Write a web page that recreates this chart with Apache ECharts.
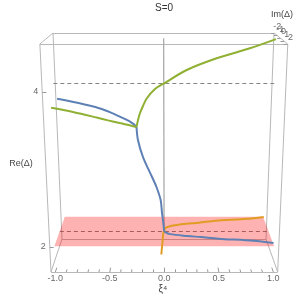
<!DOCTYPE html>
<html><head><meta charset="utf-8">
<script src="https://cdn.jsdelivr.net/npm/echarts@6/dist/echarts.min.js"></script>
<style>html,body{margin:0;padding:0;background:#fff}#c{width:302px;height:298px}</style>
</head><body><div id="c"></div>
<script>
// ---------- data ----------
// complex pair for xi < -0.252 (green: +Im, blue: -Im)
const leftPairXi = [-1, -0.8, -0.6, -0.5, -0.4, -0.33, -0.29, -0.27, -0.252];
const leftPairRe = [3.746, 3.69, 3.62, 3.575, 3.525, 3.49, 3.465, 3.45, 3.434];
const leftPairIm = [1.04, 1.03, 0.99, 0.85, 0.62, 0.42, 0.26, 0.16, 0];
// real middle root (blue) between cusp and 0
const midXi = [-0.252, -0.24, -0.195, -0.112, -0.071, -0.032, -0.0196, -0.0085, 0];
const midRe = [3.434, 3.26, 3.031, 2.758, 2.619, 2.438, 2.254, 2.126, 2];
// real upper root (green)
const upXi = [-0.252, -0.237, -0.218, -0.19, -0.156, -0.08, 0, 0.207, 0.475, 0.771, 1.0];
const upRe = [3.434, 3.526, 3.618, 3.71, 3.807, 3.93, 4.0, 4.173, 4.321, 4.446, 4.56];
// real lower root (orange), xi < 0
const lowXi = [-0.027, -0.0237, -0.0137, -0.0077, 0];
const lowRe = [1.655, 1.721, 1.867, 1.964, 2];
// complex pair for xi > 0 (blue: +Im, orange: -Im)
const rightPairXi = [0, 0.01, 0.057, 0.217, 0.344, 0.505, 0.824, 1.0];
const rightPairRe = [2, 2.01, 2.01, 2.015, 2.015, 2.02, 2.02, 2.02];
const rightPairIm = [0, 0.27, 0.54, 0.83, 0.97, 1.22, 1.49, 1.78];
// axes
const xiTicks = [-1, -0.5, 0, 0.5, 1];
const xiMinorTicks = [-0.9,-0.8,-0.7,-0.6,-0.4,-0.3,-0.2,-0.1,0.1,0.2,0.3,0.4,0.6,0.7,0.8,0.9];
const reTicks = [2, 4];
const imTicks = [-2, -1, 0, 1, 2];
const refLinesRe = [2, 4];
const planeRe = 2;
const planeXi = [-1, 1];
const planeIm = [-2, 2];

// ---------- view (box + camera) ----------
const XI = [-1.04, 1.04], IM = [-2.08, 2.08], RE = [1.6536, 4.5716];
function P(xi, im, re) {
  const u = (xi - XI[0]) / (XI[1] - XI[0]);
  const d = (im - IM[0]) / (IM[1] - IM[0]);
  const t = (re - RE[0]) / (RE[1] - RE[0]);
  const w = 1 - 0.1 * d - 0.077 * t;
  return [(62 + 204 * u - 16.1 * d - 13.08 * t) / w, (239 + 5.8 * d - 208.54 * t) / w];
}
const FONT = 'Liberation Sans, Arial, sans-serif';
const BLUE = '#5E81B5', ORANGE = '#E19C24', GREEN = '#8FB032';

function curve(xs, res, ims, sign, color) {
  return {
    type: 'line', smooth: 0.3, showSymbol: false, symbol: 'none', silent: true,
    lineStyle: { color, width: 2 }, animation: false,
    data: xs.map((x, i) => P(x, ims ? sign * ims[i] : 0, res[i]))
  };
}
function segs(list, color, width, type) {
  return {
    type: 'lines', coordinateSystem: 'cartesian2d', silent: true, animation: false,
    lineStyle: { color, width, type: type || 'solid', opacity: 1 },
    data: list.map(s => ({ coords: s }))
  };
}
function texts(items, label) {
  return {
    type: 'scatter', symbolSize: 0, silent: true, animation: false,
    data: items.map(it => ({ name: it.text, value: it.pos })),
    label: Object.assign({ show: true, formatter: '{b}', fontFamily: FONT, color: '#444', fontSize: 9 }, label)
  };
}

// box edges
const C = (a, b, c) => P(XI[a], IM[b], RE[c]);
const boxEdges = [
  [C(0,0,0), C(1,0,0)], [C(0,0,1), C(1,0,1)], [C(0,1,0), C(1,1,0)], [C(0,1,1), C(1,1,1)],
  [C(0,0,0), C(0,1,0)], [C(1,0,0), C(1,1,0)], [C(0,0,1), C(0,1,1)], [C(1,0,1), C(1,1,1)],
  [C(0,0,0), C(0,0,1)], [C(1,0,0), C(1,0,1)], [C(0,1,0), C(0,1,1)], [C(1,1,0), C(1,1,1)]
];
// ticks
const xiTickSegs = xiTicks.map(x => [P(x, IM[1], RE[0]), P(x, IM[1] - 0.5, RE[0])])
  .concat(xiMinorTicks.map(x => [P(x, IM[1], RE[0]), P(x, IM[1] - 0.3, RE[0])]));
const reTickSegs = reTicks.map(r => [P(XI[0], IM[1], r), P(XI[0] + 0.035, IM[1], r)]);
const imTickSegs = imTicks.map(m => [P(XI[1], m, RE[1]), P(XI[1] - 0.03, m, RE[1])]);
const refSegs = refLinesRe.map(r => [P(-1, 0, r), P(1, 0, r)]);
const vertSeg = [[P(0, 0, planeRe), P(0, 0, RE[1])]];
const planePts = [P(planeXi[0], planeIm[0], planeRe), P(planeXi[1], planeIm[0], planeRe),
                  P(planeXi[1], planeIm[1], planeRe), P(planeXi[0], planeIm[1], planeRe)];

const series = [
  segs(boxEdges, '#b8b8b8', 1),
  segs(refSegs, '#858585', 1, [4, 3]),
  segs(vertSeg, '#ababab', 1.3),
  {
    type: 'custom', silent: true, animation: false, data: [[0, 0]],
    renderItem: (p, api) => ({
      type: 'polygon',
      shape: { points: planePts.map(q => api.coord(q)) },
      style: { fill: 'rgba(255,0,0,0.3)' }
    })
  },
  segs(xiTickSegs, '#9a9a9a', 1),
  segs(reTickSegs, '#9a9a9a', 1),
  segs(imTickSegs, '#9a9a9a', 1),
  // orange
  curve(lowXi, lowRe, null, 1, ORANGE),
  curve(rightPairXi, rightPairRe, rightPairIm, -1, ORANGE),
  // blue
  curve(leftPairXi, leftPairRe, leftPairIm, -1, BLUE),
  curve(midXi, midRe, null, 1, BLUE),
  curve(rightPairXi, rightPairRe, rightPairIm, 1, BLUE),
  // green
  curve(leftPairXi, leftPairRe, leftPairIm, 1, GREEN),
  curve(upXi, upRe, null, 1, GREEN),
  // tick labels
  texts(xiTicks.map(x => ({ text: x.toFixed(1), pos: P(x, IM[1], RE[0]) })), { position: 'bottom', distance: 2 }),
  texts(reTicks.map(r => ({ text: String(r), pos: P(XI[0], IM[1], r) })), { position: 'left', distance: 4 }),
  texts(imTicks.map(m => ({ text: String(m), pos: P(XI[1], m, RE[1]) })), { position: 'top', distance: 2, offset: [3, 0], fontSize: 9 })
];

const chart = echarts.init(document.getElementById('c'), null, { renderer: 'canvas' });
chart.setOption({
  animation: false,
  backgroundColor: '#fff',
  grid: { left: 0, right: 0, top: 0, bottom: 0 },
  xAxis: { type: 'value', min: 0, max: 302, show: false },
  yAxis: { type: 'value', min: 0, max: 298, inverse: true, show: false },
  graphic: [
    { type: 'text', x: 164, y: 8, style: { text: 'S=0', font: '10px ' + FONT, fill: '#333', align: 'center', verticalAlign: 'middle' } },
    { type: 'text', x: 282, y: 15, style: { text: 'Im(Δ)', font: '9px ' + FONT, fill: '#444', align: 'center', verticalAlign: 'middle' } },
    { type: 'text', x: 21, y: 164, style: { text: 'Re(Δ)', font: '9px ' + FONT, fill: '#444', align: 'center', verticalAlign: 'middle' } },
    { type: 'text', x: 163, y: 289, style: { text: 'ξ⁴', font: '10px ' + FONT, fill: '#444', align: 'center', verticalAlign: 'middle' } }
  ],
  series
});
</script></body></html>
